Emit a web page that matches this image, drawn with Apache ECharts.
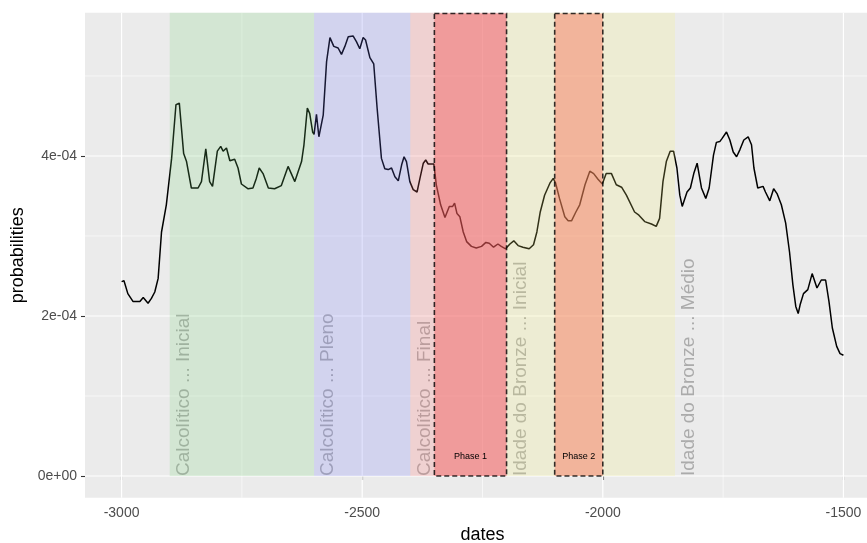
<!DOCTYPE html>
<html><head><meta charset="utf-8">
<script src="https://cdn.jsdelivr.net/npm/echarts@6/dist/echarts.min.js"></script>
<style>html,body{margin:0;padding:0;background:#fff}#c{width:867px;height:543px}</style>
</head><body><div id="c"></div>
<script>
// ---- data ----
const dates = [-3000,-2995,-2987,-2976,-2962,-2955,-2945,-2938,-2931,-2924,-2917,-2907,-2896,-2887,-2880,-2871,-2865,-2855,-2841,-2834,-2825,-2817,-2811,-2801,-2794,-2789,-2782,-2775,-2765,-2758,-2751,-2737,-2727,-2720,-2714,-2706,-2695,-2682,-2668,-2654,-2640,-2626,-2621,-2614,-2609,-2603,-2600,-2595,-2590,-2581,-2574,-2567,-2559,-2550,-2543,-2536,-2529,-2519,-2512,-2505,-2498,-2493,-2484,-2476,-2469,-2460,-2453,-2446,-2439,-2432,-2425,-2418,-2413,-2408,-2401,-2394,-2386,-2380,-2373,-2368,-2363,-2351,-2346,-2337,-2328,-2319,-2312,-2308,-2303,-2297,-2290,-2283,-2273,-2263,-2252,-2243,-2236,-2227,-2218,-2211,-2202,-2193,-2185,-2176,-2166,-2153,-2144,-2137,-2130,-2121,-2110,-2103,-2098,-2090,-2079,-2072,-2065,-2056,-2048,-2037,-2027,-2019,-2010,-2001,-1993,-1982,-1972,-1961,-1951,-1934,-1925,-1913,-1899,-1889,-1882,-1875,-1868,-1860,-1853,-1846,-1840,-1835,-1825,-1818,-1811,-1804,-1795,-1786,-1779,-1770,-1764,-1757,-1752,-1743,-1736,-1729,-1722,-1715,-1707,-1698,-1691,-1686,-1678,-1667,-1662,-1653,-1645,-1638,-1629,-1620,-1612,-1605,-1599,-1594,-1590,-1583,-1574,-1565,-1555,-1546,-1537,-1530,-1523,-1514,-1507,-1500];
// probabilities in units of 1e-4
const probE4 = [2.43,2.44,2.28,2.18,2.18,2.23,2.16,2.22,2.30,2.47,3.05,3.39,3.97,4.64,4.66,4.03,3.93,3.60,3.60,3.68,4.09,3.68,3.62,4.06,4.12,4.06,4.10,3.94,3.96,3.85,3.65,3.59,3.60,3.72,3.85,3.78,3.60,3.59,3.63,3.87,3.68,3.93,4.14,4.60,4.53,4.30,4.27,4.52,4.24,4.51,5.18,5.48,5.37,5.35,5.27,5.37,5.49,5.50,5.43,5.34,5.48,5.45,5.23,5.15,4.60,3.97,3.84,3.83,3.85,3.74,3.69,3.89,3.99,3.93,3.68,3.58,3.55,3.72,3.91,3.95,3.90,3.90,3.64,3.39,3.23,3.37,3.37,3.41,3.28,3.24,3.05,2.93,2.87,2.85,2.87,2.92,2.91,2.86,2.90,2.87,2.84,2.90,2.94,2.88,2.86,2.84,2.89,3.05,3.30,3.51,3.66,3.72,3.66,3.47,3.24,3.19,3.19,3.30,3.39,3.64,3.81,3.78,3.71,3.65,3.78,3.78,3.64,3.61,3.51,3.30,3.26,3.18,3.15,3.12,3.22,3.68,3.93,4.06,4.06,3.85,3.51,3.37,3.55,3.60,3.78,3.91,3.60,3.47,3.60,4.01,4.17,4.18,4.22,4.30,4.20,4.05,3.99,4.08,4.20,4.24,4.14,3.85,3.60,3.62,3.55,3.44,3.59,3.53,3.39,3.16,2.80,2.39,2.12,2.03,2.14,2.28,2.33,2.53,2.35,2.45,2.45,2.18,1.85,1.62,1.53,1.51];
const probabilities = probE4.map(v => v * 1e-4);

const periodNames = ['Calcolítico ... Inicial','Calcolítico ... Pleno','Calcolítico ... Final','Idade do Bronze ... Inicial','Idade do Bronze ... Médio'];
const periodStart = [-2900,-2600,-2400,-2200,-1850];
const periodEnd   = [-2600,-2400,-2200,-1850,-1500];

const phaseNames = ['Phase 1','Phase 2'];
const phaseStart = [-2350,-2100];
const phaseEnd   = [-2200,-2000];
const phaseLabelY = [2.4e-5, 2.4e-5];

const xTicks = [-3000,-2500,-2000,-1500];
const xMinor = [-2750,-2250,-1750];
const yTicks = [0, 2e-4, 4e-4];
const yMinor = [1e-4, 3e-4, 5e-4];

// ---- styles ----
const X_MIN = -3076, X_MAX = -1424;
const Y_MIN = -2.71e-5, Y_MAX = 5.791e-4;
const FONT = 'Liberation Sans, Arial, sans-serif';
const periodColors = ['rgba(115,210,115,0.2)','rgba(110,115,250,0.2)','rgba(255,105,105,0.2)','rgba(245,240,115,0.2)','rgba(0,0,0,0)'];
const phaseColors = ['rgba(241,89,89,0.45)','rgba(248,112,87,0.45)'];

function sci(v){
  if (v === 0) return '0e+00';
  const e = Math.floor(Math.log10(Math.abs(v)) + 1e-9);
  const m = Math.round(v / Math.pow(10, e));
  const ae = Math.abs(e);
  return m + 'e' + (e < 0 ? '-' : '+') + (ae < 10 ? '0' : '') + ae;
}

const gridItems = [];
xTicks.forEach(v => gridItems.push([v, 0, 1]));
xMinor.forEach(v => gridItems.push([v, 0, 0]));
yTicks.forEach(v => gridItems.push([v, 1, 1]));
yMinor.forEach(v => gridItems.push([v, 1, 0]));

const chart = echarts.init(document.getElementById('c'), null, {renderer:'canvas'});
chart.setOption({
  animation: false,
  backgroundColor: '#ffffff',
  grid: {left: 85, top: 12.7, width: 795, height: 485, show: true, backgroundColor: '#EBEBEB', borderWidth: 0, containLabel: false, outerBoundsMode: 'none'},
  xAxis: {
    type: 'value', min: X_MIN, max: X_MAX,
    name: 'dates', nameLocation: 'middle', nameGap: 28,
    nameTextStyle: {fontSize: 18, color: '#000', fontFamily: FONT},
    axisLine: {show: false}, splitLine: {show: false},
    axisTick: {show: true, length: 4, lineStyle: {color: '#333', width: 1.1}, customValues: xTicks},
    axisLabel: {customValues: xTicks, fontSize: 14, color: '#4D4D4D', fontFamily: FONT, margin: 8, formatter: v => String(v)}
  },
  yAxis: {
    type: 'value', min: Y_MIN, max: Y_MAX,
    name: 'probabilities', nameLocation: 'middle', nameGap: 57, nameRotate: 90,
    nameTextStyle: {fontSize: 18, color: '#000', fontFamily: FONT},
    axisLine: {show: false}, splitLine: {show: false},
    axisTick: {show: true, length: 4, lineStyle: {color: '#333', width: 1.1}, customValues: yTicks},
    axisLabel: {customValues: yTicks, fontSize: 14, color: '#4D4D4D', fontFamily: FONT, margin: 8, formatter: sci}
  },
  series: [
    { // gridlines
      type: 'custom', z: 1, silent: true, clip: false,
      data: gridItems,
      renderItem: (params, api) => {
        const v = api.value(0), horiz = api.value(1), major = api.value(2);
        let a, b;
        if (horiz) { a = api.coord([X_MIN, v]); b = api.coord([X_MAX, v]); }
        else { a = api.coord([v, Y_MIN]); b = api.coord([v, Y_MAX]); }
        return {type: 'line', shape: {x1: a[0], y1: a[1], x2: b[0], y2: b[1]},
          style: {stroke: '#FFFFFF', lineWidth: major ? 1.2 : 0.6}};
      }
    },
    { // curve
      type: 'line', z: 2, silent: true, showSymbol: false, symbol: 'none',
      data: dates.map((d, i) => [d, probabilities[i]]),
      lineStyle: {color: '#000', width: 1.5}
    },
    { // period labels
      type: 'custom', z: 3, silent: true, clip: false,
      data: periodNames.map((n, i) => [periodStart[i], 0, i]),
      renderItem: (params, api) => {
        const i = api.value(2);
        const p = api.coord([api.value(0), 0]);
        return {type: 'text', x: p[0] + 14, y: p[1], rotation: Math.PI / 2,
          style: {text: periodNames[i], fill: 'rgba(128,128,128,0.6)', font: '19px ' + FONT, align: 'left', verticalAlign: 'middle'}};
      }
    },
    { // period bands
      type: 'custom', z: 4, silent: true, clip: false,
      data: periodNames.map((n, i) => [periodStart[i], periodEnd[i], i]),
      renderItem: (params, api) => {
        const i = api.value(2);
        const p0 = api.coord([api.value(0), 0]);
        const p1 = api.coord([api.value(1), Y_MAX]);
        return {type: 'rect', shape: {x: p0[0], y: p1[1], width: p1[0] - p0[0], height: p0[1] - p1[1]},
          style: {fill: periodColors[i]}};
      }
    },
    { // phases
      type: 'custom', z: 5, silent: true, clip: false,
      data: phaseNames.map((n, i) => [phaseStart[i], phaseEnd[i], i]),
      renderItem: (params, api) => {
        const i = api.value(2);
        const p0 = api.coord([api.value(0), 0]);
        const p1 = api.coord([api.value(1), Y_MAX]);
        return {type: 'rect', shape: {x: p0[0], y: p1[1] + 0.8, width: p1[0] - p0[0], height: p0[1] - p1[1] - 0.8},
          style: {fill: phaseColors[i], stroke: 'rgba(0,0,0,0.8)', lineWidth: 1.6, lineDash: [5, 3]}};
      }
    },
    { // phase labels
      type: 'custom', z: 6, silent: true, clip: false,
      data: phaseNames.map((n, i) => [(phaseStart[i] + phaseEnd[i]) / 2, phaseLabelY[i], i]),
      renderItem: (params, api) => {
        const i = api.value(2);
        const p = api.coord([api.value(0), api.value(1)]);
        return {type: 'text', x: p[0], y: p[1],
          style: {text: phaseNames[i], fill: '#000', font: '9px ' + FONT, align: 'center', verticalAlign: 'middle'}};
      }
    }
  ]
});
</script>
</body></html>
